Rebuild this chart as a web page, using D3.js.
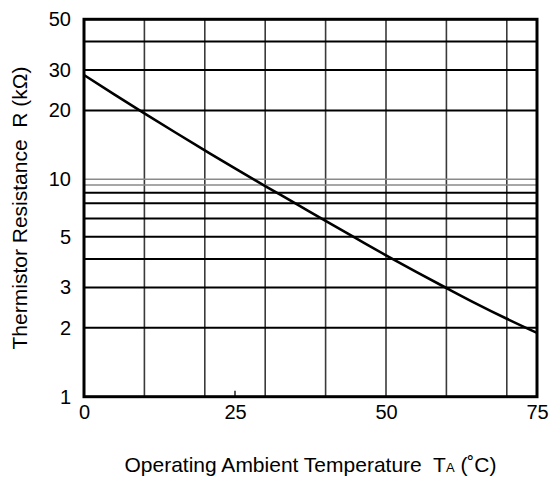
<!DOCTYPE html>
<html><head><meta charset="utf-8">
<script src="https://cdn.jsdelivr.net/npm/d3@7"></script>
<style>
html,body{margin:0;padding:0;background:#fff;}
svg{display:block;font-family:"Liberation Sans",Arial,sans-serif;}
text{white-space:pre;}
</style></head>
<body>
<svg id="c" width="551" height="479"></svg>
<script>
// Data
const temperatures = [0, 5, 10, 15, 20, 25, 30, 35, 40, 45, 50, 55, 60, 65, 70, 75];
const resistance   = [28.56, 23.51, 19.42, 16.09, 13.38, 11.15, 8.86, 6.99, 5.86, 4.93, 4.15, 3.51, 2.985, 2.546, 2.19, 1.90];
const xTicks = [0, 25, 50, 75];
const xGrid = [10, 20, 30, 40, 50, 60, 70];
const yTicks = [1, 2, 3, 5, 10, 20, 30, 50];
const yGrid = [2, 3, 4, 5, 6, 7, 8, 9, 10, 20, 30, 40];
const yGridLight = [9, 10];

const svg = d3.select("#c");
const L = 84, R = 537, T = 19.3, B = 396.7;

const x = d3.scaleLinear().domain([0, 75]).range([L, R]);
// log scale, piecewise to follow the reference's printed grid
const y = d3.scaleLog().domain([1, 7, 8, 9, 10, 50]).range([B, 203.3, 192.7, 185, 179.3, T]);

const g = svg.append("g");

// vertical grid
g.selectAll("line.vg").data(xGrid).enter().append("line")
  .attr("x1", d => x(d)).attr("x2", d => x(d))
  .attr("y1", T).attr("y2", B)
  .attr("stroke", "#3a3a3a").attr("stroke-width", 1.6);

// horizontal grid
g.selectAll("line.hg").data(yGrid).enter().append("line")
  .attr("x1", L).attr("x2", R)
  .attr("y1", d => y(d)).attr("y2", d => y(d))
  .attr("stroke", d => yGridLight.includes(d) ? "#8a8a8a" : "#000")
  .attr("stroke-width", d => yGridLight.includes(d) ? 1.4 : 2);

// minor tick at 25 on bottom
g.selectAll("line.tk").data([25]).enter().append("line")
  .attr("x1", d => x(d)).attr("x2", d => x(d))
  .attr("y1", B).attr("y2", B - 6)
  .attr("stroke", "#000").attr("stroke-width", 1.3);

// curve
const line = d3.line().x(d => x(d[0])).y(d => y(d[1])).curve(d3.curveMonotoneX);
g.append("path")
  .datum(temperatures.map((t, i) => [t, resistance[i]]))
  .attr("d", line).attr("fill", "none").attr("stroke", "#000").attr("stroke-width", 2.6);

// frame
g.append("rect").attr("x", L).attr("y", T).attr("width", R - L).attr("height", B - T)
  .attr("fill", "none").attr("stroke", "#000").attr("stroke-width", 3);

// axes labels
const yAxis = d3.axisLeft(y).tickValues(yTicks).tickFormat(d3.format("d")).tickSize(0).tickPadding(13);
const ya = svg.append("g").attr("transform", `translate(${L},0)`).call(yAxis);
ya.select(".domain").remove();
ya.selectAll("text").attr("font-size", 20).attr("fill", "#000").attr("font-family", "Liberation Sans, Arial, sans-serif");

const xAxis = d3.axisBottom(x).tickValues(xTicks).tickFormat(d3.format("d")).tickSize(0).tickPadding(8);
const xa = svg.append("g").attr("transform", `translate(0,${B})`).call(xAxis);
xa.select(".domain").remove();
xa.selectAll("text").attr("font-size", 20).attr("fill", "#000").attr("font-family", "Liberation Sans, Arial, sans-serif");

// titles
const xt = svg.append("text").attr("x", (L + R) / 2).attr("y", 472)
  .attr("text-anchor", "middle").attr("font-size", 21).attr("fill", "#000");
xt.append("tspan").text("Operating Ambient Temperature  T");
xt.append("tspan").attr("font-size", 13).text("A");
xt.append("tspan").text(" (˚C)");

svg.append("text").attr("transform", `translate(27,${(T + B) / 2}) rotate(-90)`)
  .attr("text-anchor", "middle").attr("font-size", 21).attr("fill", "#000")
  .text("Thermistor Resistance  R (kΩ)");
</script>
</body></html>
